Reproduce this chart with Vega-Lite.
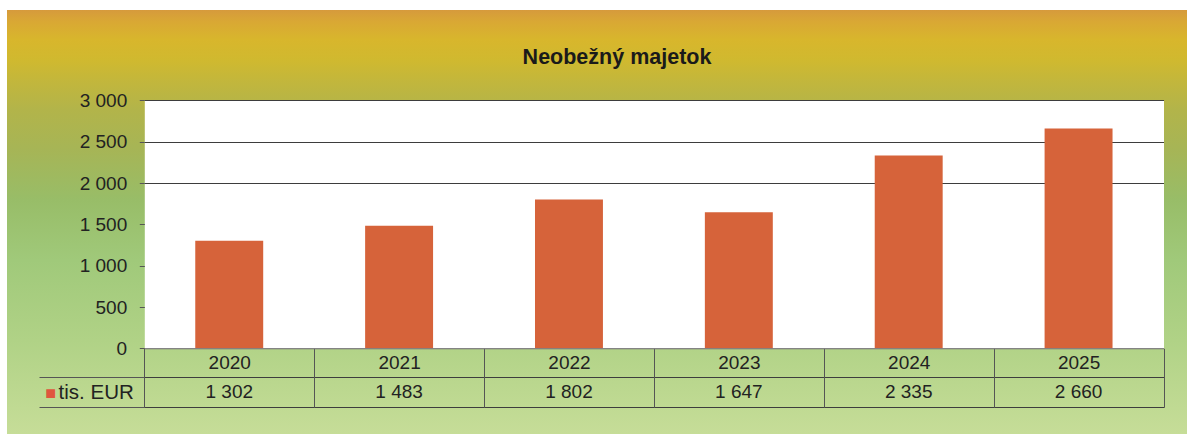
{
  "$schema": "https://vega.github.io/schema/vega-lite/v6.json",
  "width": 1180,
  "height": 424,
  "autosize": {"type": "none"},
  "padding": {"left": 7, "top": 10, "right": 0, "bottom": 0},
  "background": "white",
  "view": {
    "stroke": null,
    "fill": {
      "gradient": "linear", "x1": 0, "y1": 0, "x2": 0, "y2": 1,
      "stops": [
        {"offset": 0, "color": "#d69a3c"},
        {"offset": 0.028, "color": "#d9a834"},
        {"offset": 0.07, "color": "#d8b62c"},
        {"offset": 0.118, "color": "#d0b92f"},
        {"offset": 0.177, "color": "#c0b63e"},
        {"offset": 0.236, "color": "#b2b44a"},
        {"offset": 0.33, "color": "#a6b556"},
        {"offset": 0.448, "color": "#98bd68"},
        {"offset": 0.59, "color": "#a0c97a"},
        {"offset": 0.778, "color": "#b0d286"},
        {"offset": 1, "color": "#c6dd98"}
      ]
    }
  },
  "title": {
    "text": "Neobežný majetok",
    "font": "Liberation Sans",
    "fontSize": 21.5,
    "fontWeight": "bold",
    "color": "#1a1a1a",
    "anchor": "middle",
    "frame": "group",
    "baseline": "alphabetic",
    "offset": -75.3,
    "dx": 20
  },
  "data": {
    "values": [
      {"year": "2020", "value": 1302},
      {"year": "2021", "value": 1483},
      {"year": "2022", "value": 1802},
      {"year": "2023", "value": 1647},
      {"year": "2024", "value": 2335},
      {"year": "2025", "value": 2660}
    ]
  },
  "encoding": {
    "x": {
      "field": "year",
      "type": "ordinal",
      "scale": {"type": "band", "range": [137.3, 1156.5], "paddingInner": 0, "paddingOuter": 0},
      "axis": {
        "orient": "bottom",
        "offset": -85.7,
        "title": null,
        "labelAngle": 0,
        "labelFont": "Liberation Sans",
        "labelFontSize": 19,
        "labelColor": "#222222",
        "labelBaseline": "middle",
        "labelPadding": -44.5,
        "tickBand": "extent",
        "tickSize": 59,
        "tickColor": "#555555",
        "tickWidth": 1,
        "domainColor": "#7a7a7a",
        "grid": false,
        "zindex": 1
      }
    }
  },
  "layer": [
    {
      "mark": {"type": "bar", "color": "#d6633a", "width": {"band": 0.4}},
      "encoding": {
        "y": {
          "field": "value",
          "type": "quantitative",
          "scale": {"domain": [-1037.5, 4095.6], "nice": false, "zero": false},
          "axis": {
            "orient": "left",
            "offset": -137.3,
            "zindex": 0,
            "values": [1500.01, -714.3, -532.7, -351.1, 0, 500, 1000, 1500, 2000, 2500, 3000],
            "tickCount": 40,
            "format": ",d",
            "labelExpr": "datum.value > -600 && datum.value < -500 ? 'tis. EUR' : ((datum.value < 0 || datum.value == 1500.01) ? '' : datum.label)",
            "labelOverlap": false,
            "labelBound": false,
            "labelFont": "Liberation Sans",
            "labelFontSize": {"condition": {"test": "datum.value > -600 && datum.value < -500", "value": 20.5}, "value": 19},
            "labelColor": "#222222",
            "labelPadding": {"condition": {"test": "datum.value > -600 && datum.value < -500", "value": 6}, "value": 12.6},
            "tickSize": {"condition": {"test": "datum.value < -300 && !(datum.value < -500 && datum.value > -600)", "value": 105.3}, "value": 5},
            "tickColor": "#555555",
            "tickOpacity": {"condition": {"test": "datum.value == 1500.01 || (datum.value > -600 && datum.value < -500)", "value": 0}, "value": 1},
            "domain": false,
            "grid": true,
            "gridColor": {"condition": {"test": "datum.value == 1500.01", "value": "#ffffff"}, "value": "#3d3d3d"},
            "gridWidth": {"condition": {"test": "datum.value == 1500.01", "value": 247.8}, "value": 1},
            "gridOpacity": {"condition": {"test": "datum.value > -600 && datum.value < -500", "value": 0}, "value": 1},
            "title": "■",
            "titleColor": "#e0553e",
            "titleFont": "Liberation Sans",
            "titleFontSize": 18,
            "titleFontWeight": "normal",
            "titleAngle": 0,
            "titleX": -94,
            "titleY": 383,
            "titleAlign": "center",
            "titleBaseline": "middle"
          }
        }
      }
    },
    {
      "mark": {"type": "text", "font": "Liberation Sans", "fontSize": 19, "color": "#222222", "baseline": "middle"},
      "encoding": {
        "y": {"datum": -532.7},
        "text": {"field": "value", "type": "quantitative", "format": ",d"}
      }
    }
  ],
  "config": {
    "locale": {
      "number": {"decimal": ",", "thousands": " ", "grouping": [3], "currency": ["", " €"]}
    }
  }
}
